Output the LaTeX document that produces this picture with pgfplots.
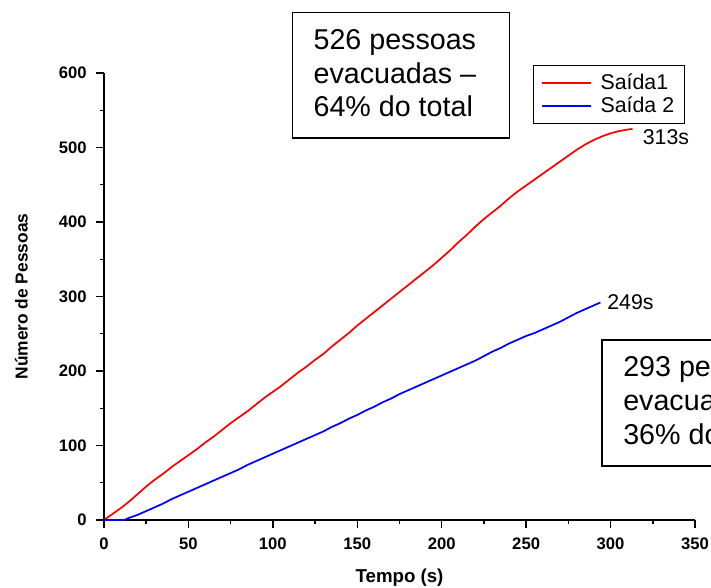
\documentclass[border=0pt]{standalone}
\usepackage{pgfplots}
\pgfplotsset{compat=1.18}
\usepackage{fontspec}
\setmainfont{Liberation Sans}
\newcommand\tickfont{\fontsize{12.5}{14}\selectfont\bfseries}
\newcommand\labfont{\fontsize{13}{15}\selectfont\bfseries}
\newcommand\xlabfont{\fontsize{14}{16}\selectfont\bfseries}
\newcommand\boxfont{\fontsize{21.5}{25}\selectfont}
\newcommand\legfont{\fontsize{16}{17}\selectfont}
\begin{document}
\begin{tikzpicture}
\begin{axis}[
  scale only axis,
  width=443.25pt, height=335.25pt,
  xmin=0, xmax=350, ymin=0, ymax=600,
  clip=false,
  axis x line*=bottom, axis y line*=left,
  axis line style={line width=1.1pt},
  xtick={0,50,...,350}, ytick={0,100,...,600},
  minor x tick num=1, minor y tick num=1,
  tick align=outside,
  major tick length=6pt, minor tick length=3pt,
  every tick/.style={line width=1.1pt, black},
  /pgf/number format/assume math mode=true,
  ticklabel style={font=\tickfont},
  xticklabel style={yshift=-4pt},
  yticklabel style={xshift=-3.5pt},
  xlabel={Tempo (s)}, ylabel={Número de Pessoas},
  xlabel style={font=\xlabfont, at={(axis description cs:0.5,-0.1298)}, anchor=center},
  ylabel style={font=\labfont, at={(axis description cs:-0.1399,0.5)}, anchor=center, rotate=0},
  legend style={at={(axis description cs:0.7259,1.0179)}, anchor=north west,
    draw=black, line width=0.8pt, font=\legfont, inner xsep=5.5pt, inner ysep=4.5pt,
    row sep=0pt},
  legend cell align=left,
  legend image code/.code={\draw[#1, line width=1.3pt] (0pt,0pt) -- (37pt,0pt); \path (41.5pt,0pt);},
]
\addplot[red, line width=1.3pt] coordinates {
(0,0) (5,8) (10,16) (15,25) (20,35) (25,45) (30,54) (35,62) (40,71) (45,79)
(50,87) (55,95) (60,104) (65,112) (70,121) (75,130) (80,138) (85,146) (90,155) (95,164)
(100,172) (105,180) (110,189) (115,198) (120,206) (125,215) (130,223) (135,233) (140,242) (145,251)
(150,261) (155,270) (160,279) (165,288) (170,297) (175,306) (180,315) (185,324) (190,333) (195,342)
(200,352) (205,362) (210,373) (215,383) (220,394) (225,404) (230,413) (235,422) (240,432) (245,441)
(250,449) (255,457) (260,465) (265,473) (270,481) (275,489) (280,497) (285,504) (290,510) (295,515)
(300,519) (305,522) (310,524) (313,525)
};
\addlegendentry{Saída1}
\addplot[blue, line width=1.3pt] coordinates {
(0,0) (12,0) (15,3) (20,7) (25,12) (30,17) (35,22) (40,28) (45,33)
(50,38) (55,43) (60,48) (65,53) (70,58) (75,63) (80,68) (85,74) (90,79) (95,84)
(100,89) (105,94) (110,99) (115,104) (120,109) (125,114) (130,119) (135,125) (140,130) (145,136)
(150,141) (155,147) (160,152) (165,158) (170,163) (175,169) (180,174) (185,179) (190,184) (195,189)
(200,194) (205,199) (210,204) (215,209) (220,214) (225,220) (230,226) (235,231) (240,237) (245,242)
(250,247) (255,251) (260,256) (265,261) (270,266) (275,272) (280,278) (285,283) (290,288) (294,292)
};
\addlegendentry{Saída 2}
\node[anchor=west, inner sep=0pt, font=\legfont, xshift=7.5pt, yshift=-6pt] at (axis cs:313,525) {313s};
\node[anchor=west, inner sep=0pt, font=\legfont, xshift=5pt] at (axis cs:294,292) {249s};
\end{axis}
\begin{scope}[shift={(-78pt,390pt)}, x=0.75pt, y=-0.75pt]
\draw[line width=0.9pt] (292.7,12.3) rectangle (509.3,138);
\node[anchor=base west, inner sep=0pt, font=\boxfont] at (313.3,49.3) {526 pessoas};
\node[anchor=base west, inner sep=0pt, font=\boxfont] at (313.3,83.3) {evacuadas –};
\node[anchor=base west, inner sep=0pt, font=\boxfont] at (313.3,116.7) {64\% do total};
\draw[line width=0.9pt] (602,340) rectangle (830,466);
\node[anchor=base west, inner sep=0pt, font=\boxfont] at (623,377) {293 pessoas};
\node[anchor=base west, inner sep=0pt, font=\boxfont] at (623,411) {evacuadas –};
\node[anchor=base west, inner sep=0pt, font=\boxfont] at (623,444.4) {36\% do total};
\end{scope}
\pgfresetboundingbox
\path[use as bounding box] (-78pt,-51pt) rectangle (455.25pt,390pt);
\end{tikzpicture}
\end{document}
